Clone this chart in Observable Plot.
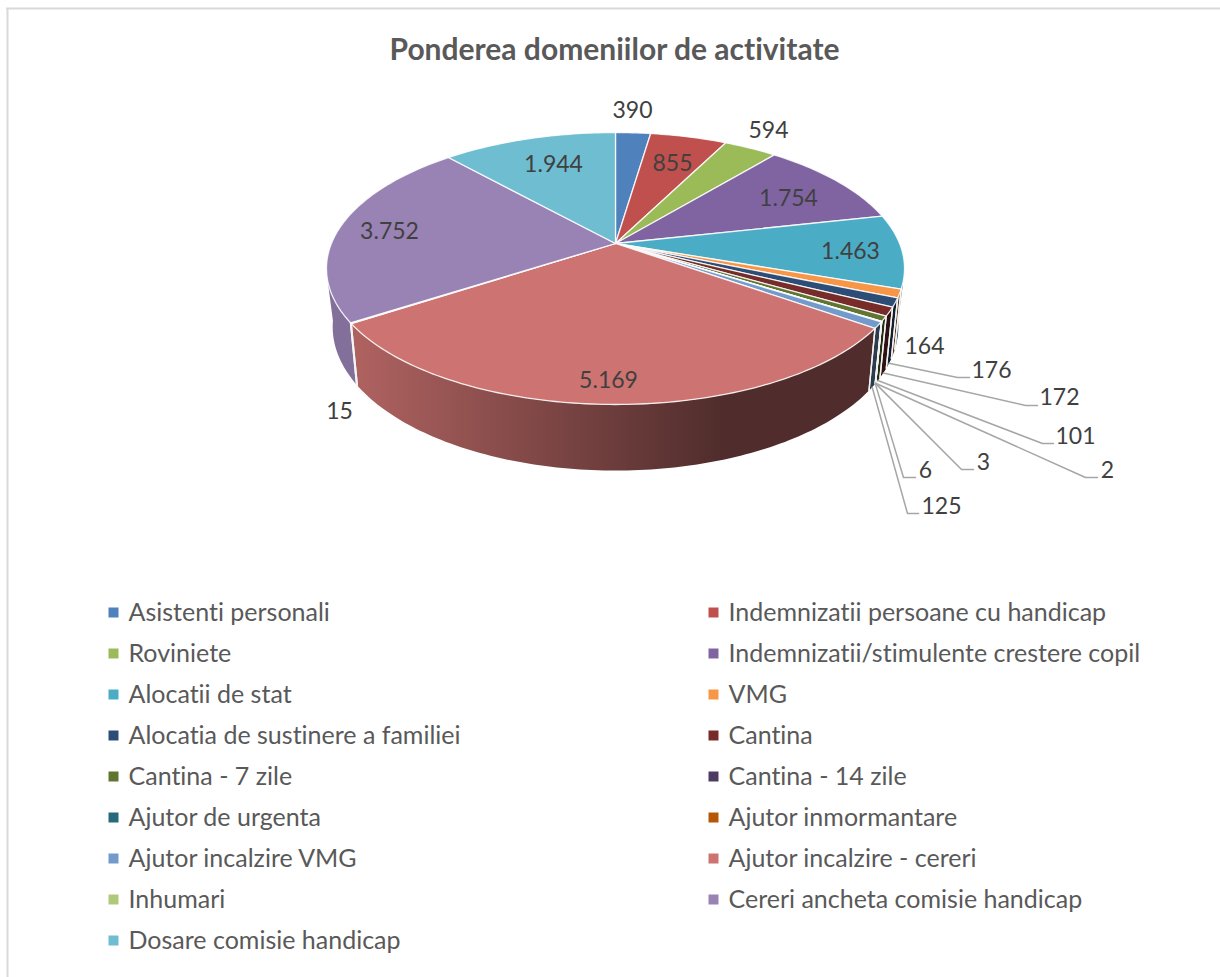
<!DOCTYPE html>
<html>
<head>
<meta charset="utf-8">
<script src="https://cdn.jsdelivr.net/npm/d3@7"></script>
<script src="https://cdn.jsdelivr.net/npm/@observablehq/plot@0.6"></script>
<style>html,body{margin:0;padding:0;background:#fff}svg{display:block}text{font-variant-ligatures:none}</style>
</head>
<body>
<div id="chart"></div>
<script>
const categories = ["Asistenti personali","Indemnizatii persoane cu handicap","Roviniete","Indemnizatii/stimulente crestere copil","Alocatii de stat","VMG","Alocatia de sustinere a familiei","Cantina","Cantina - 7 zile","Cantina - 14 zile","Ajutor de urgenta","Ajutor inmormantare","Ajutor incalzire VMG","Ajutor incalzire - cereri","Inhumari","Cereri ancheta comisie handicap","Dosare comisie handicap"];
const values = [390,855,594,1754,1463,164,176,172,101,2,3,6,125,5169,15,3752,1944];
const valueLabels = ["390","855","594","1.754","1.463","164","176","172","101","2","3","6","125","5.169","15","3.752","1.944"];
const colors = ["#4F81BD","#C0504D","#9BBB59","#8064A2","#4BACC6","#F79646","#2C4D75","#772C2A","#5F7530","#4D3B62","#276A7C","#B65708","#729ACA","#CD7371","#AFC97A","#9983B5","#6FBDD1"];
// label centre [x, y] per slice
const labelX = [632,672,768,788,850,924,991,1059,1075,1107,983,925,941,608,339,389,553];
const labelY = [110,163,130,198,251,346,370,397,436,470,462,470,506,380,411,231,164];
// leader line elbows: [slice index, elbow x, elbow y, end x]
const leaders = [[6,957,377,969],[7,1025,405,1037],[8,1042,443,1053],[9,1085,477,1097],[10,961,469,973],[11,903,477,915],[12,907,513,918]];

const W = 1220, H = 977;
// perspective camera of the pie
const cx = 615, cy = 243, f = 284.1, g = 131.4, k = 0.1838, m = 0.0212, n = 58.7;
const project = (t, depth) => {
  const s = Math.sin(t), c = Math.cos(t), w = 1 + k * c + m * depth;
  return [cx + f * s / w, cy + (-g * c + n * depth) / w];
};
const rad = d => d * Math.PI / 180;
const total = d3.sum(values);
const cum = d3.cumsum(values);
const slices = values.map((v, i) => ({i, a0: (cum[i] - v) / total * 360, a1: cum[i] / total * 360}));
const arcAngles = (a0, a1) => {
  const out = [a0];
  for (let a = Math.ceil(a0 + 1e-6); a < a1; a += 1) out.push(a);
  out.push(a1);
  return out;
};
const scaleColor = (col, q) => {
  const c = d3.rgb(col);
  return d3.rgb(c.r * q, c.g * q, c.b * q).formatHex();
};
const gradX0 = 357, gradX1 = 720, shadeLight = 0.85, shadeDark = 0.39;

// top faces
const topFaces = slices.flatMap(s =>
  [[cx, cy], ...arcAngles(s.a0, s.a1).map(a => project(rad(a), 0)), [cx, cy]]
    .map(([x, y]) => ({id: s.i, x, y, color: colors[s.i]})));

// side walls: one closed outline per slice, filled with a gradient.
// The silhouette runs from the top rim (106 / 254 deg) to the base rim (98 / 262 deg).
const topLo = 106, topHi = 254, baseLo = 98, baseHi = 262;
const walls = [], edges = [];
for (const s of slices) {
  if (s.a1 <= baseLo || s.a0 >= baseHi) continue;
  const topAs = arcAngles(Math.max(s.a0, topLo), Math.min(s.a1, topHi));
  const baseAs = arcAngles(Math.max(s.a0, baseLo), Math.min(s.a1, baseHi));
  const outline = [...topAs.map(a => project(rad(a), 0)), ...baseAs.reverse().map(a => project(rad(a), 1))];
  outline.push(outline[0]);
  walls.push({i: s.i, pts: outline.map(([x, y]) => ({x, y}))});
  for (const a of [s.a0, s.a1]) {
    if (a < topLo || a > topHi) continue;
    for (const d of [0, 1]) {
      const [x, y] = project(rad(a), d);
      edges.push({id: s.i + "-" + a, x, y});
    }
  }
}
const gradientDefs = () => {
  const defs = d3.create("svg:defs");
  for (const w of walls) {
    const lg = defs.append("linearGradient").attr("id", "wall" + w.i)
      .attr("gradientUnits", "userSpaceOnUse")
      .attr("x1", gradX0).attr("x2", gradX1).attr("y1", 0).attr("y2", 0);
    lg.append("stop").attr("offset", 0).attr("stop-color", scaleColor(colors[w.i], shadeLight));
    lg.append("stop").attr("offset", 1).attr("stop-color", scaleColor(colors[w.i], shadeDark));
  }
  return defs.node();
};

// leader lines
const leaderPts = [];
for (const [i, ex, ey, tx] of leaders) {
  const s = slices[i];
  const [x0, y0] = project(rad((s.a0 + s.a1) / 2), 1);
  leaderPts.push({id: i, x: x0, y: y0}, {id: i, x: ex, y: ey}, {id: i, x: tx, y: ey});
}
const labels = values.map((v, i) => ({t: valueLabels[i], x: labelX[i], y: labelY[i]}));
const legend = categories.map((c, i) => ({
  t: c,
  color: colors[i],
  bx: i % 2 ? 713 : 113,
  tx: i % 2 ? 728 : 128,
  y: 612 + 41 * Math.floor(i / 2)
}));

const font = "Lato, 'Noto Sans', sans-serif";
const chart = Plot.plot({
  width: W, height: H,
  margin: 0,
  x: {domain: [0, W], range: [0, W], axis: null},
  y: {domain: [0, H], range: [0, H], axis: null},
  color: {type: "identity"},
  style: {background: "#fff", fontFamily: font},
  marks: [
    gradientDefs,
    Plot.ruleX([7], {y1: 8, y2: H, stroke: "#d9d9d9", strokeWidth: 2}),
    Plot.ruleY([8], {x1: 6, x2: W, stroke: "#d9d9d9", strokeWidth: 2}),
    ...walls.map(w => Plot.line(w.pts, {x: "x", y: "y", fill: `url(#wall${w.i})`, stroke: "none", curve: "linear"})),
    Plot.line(edges, {x: "x", y: "y", z: "id", stroke: "#f4f4f4", strokeWidth: 1.4}),
    Plot.line(topFaces, {x: "x", y: "y", z: "id", fill: d => d.color, stroke: "#ffffff", strokeWidth: 1.3, strokeOpacity: 0.85, curve: "linear"}),
    Plot.line(leaderPts, {x: "x", y: "y", z: "id", stroke: "#a6a6a6", strokeWidth: 1.5}),
    Plot.text(labels, {x: "x", y: "y", text: "t", fontSize: 23, fill: "#404040", textAnchor: "middle", lineAnchor: "middle"}),
    Plot.text(["Ponderea domeniilor de activitate"], {x: () => 614, y: () => 50, text: d => d, fontSize: 30, fontWeight: 700, fill: "#595959", textAnchor: "middle", lineAnchor: "middle"}),
    Plot.dot(legend, {x: "bx", y: "y", symbol: "square", r: 5.64, fill: d => d.color, stroke: "none"}),
    Plot.text(legend, {x: "tx", y: "y", text: "t", fontSize: 25, fill: "#595959", textAnchor: "start", lineAnchor: "middle"})
  ]
});
document.getElementById("chart").append(chart);
</script>
</body>
</html>
